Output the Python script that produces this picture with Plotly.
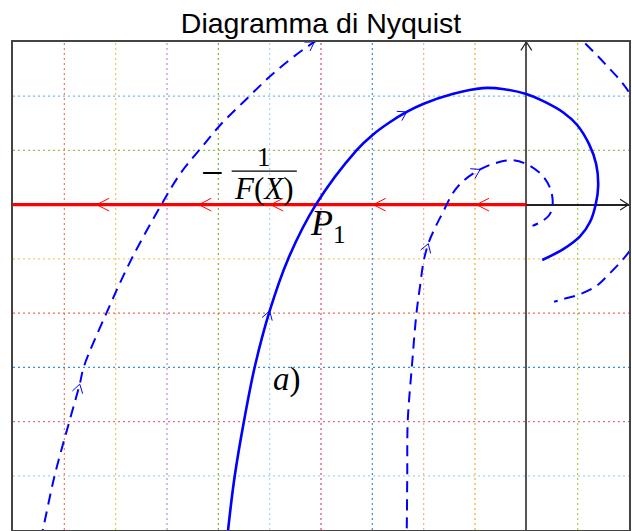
import math
import plotly.graph_objects as go

# ---- Curves of the Nyquist diagram (real part, imaginary part) ----
curve_a_re = [-5.84, -5.81, -5.68, -5.50, -5.29, -5.00, -4.64, -4.10, -3.30, -2.99, -2.66,
              -2.33, -2.00, -1.44, -0.85, -0.43, 0.00, 0.37, 0.72, 0.99, 1.22, 1.36, 1.40,
              1.35, 1.24, 1.05, 0.72, 0.31]
curve_a_im = [-6.30, -6.00, -5.00, -3.99, -2.99, -1.96, -1.00, 0.00, 1.01, 1.29, 1.52,
              1.71, 1.86, 2.04, 2.15, 2.13, 2.04, 1.89, 1.70, 1.47, 1.12, 0.75, 0.35,
              0.00, -0.32, -0.58, -0.82, -1.02]
curve_a_arrows = [5, 11]

outer_re = [-9.55, -9.42, -9.19, -8.90, -8.70, -8.62, -8.18, -7.69, -7.11, -6.72, -6.35,
            -5.97, -5.45, -4.87, -4.13, -3.00, -1.50, 0.00, 0.80, 1.12, 1.53, 1.96, 2.30, 2.45,
            2.35, 2.00, 1.57, 1.38, 1.05, 0.73, 0.54]
outer_im = [-6.50, -6.00, -5.00, -3.99, -3.31, -2.99, -2.00, -1.00, 0.00, 0.60, 1.03,
            1.46, 1.95, 2.47, 3.00, 3.60, 3.95, 3.80, 3.30, 3.00, 2.60, 2.13, 1.50, 0.50,
            -0.30, -0.87, -1.32, -1.49, -1.65, -1.74, -1.79]
outer_arrows = [4, 14]

inner_re = [-2.34, -2.33, -2.32, -2.31, -2.23, -2.14, -2.07, -2.00, -1.91, -1.79, -1.63,
            -1.42, -1.20, -0.90, -0.59, -0.29, 0.00, 0.32, 0.48, 0.51, 0.44, 0.28, 0.12]
inner_im = [-6.30, -6.00, -5.00, -3.99, -2.99, -2.00, -1.50, -1.04, -0.72, -0.45, -0.15,
            0.23, 0.46, 0.65, 0.77, 0.82, 0.75, 0.53, 0.26, -0.02, -0.20, -0.32, -0.39]
inner_arrows = [8, 13]

# -1/F(X) locus on the negative real axis
locus_re = [-10.0, 0.0]
locus_im = [0.0, 0.0]
locus_arrow_re = [-8.37, -6.38, -4.98, -2.98, -0.97]

# ---- Grid ----
grid_x = [-9, -8, -7, -6, -5, -4, -3, -2, -1, 1]
grid_x_colors = ["#ee7a50", "#f7c04e", "#b88ad0", "#7fae3e", "#9fdaf2",
                 "#d84a72", "#3d8fd2", "#f6ad92", "#f4a82a", "#9fcf45"]
grid_y = [2, 1, -1, -2, -3, -4, -5]
grid_y_colors = ["#6fc0e4", "#9cba52", "#f8cc6e", "#f0703a", "#3590d8", "#da7096", "#9ed6ef"]

X_RANGE = [-10, 2]
Y_RANGE = [-6, 3]

W, H = 632, 531
M = dict(l=13, r=1, t=42, b=1)
SX = (W - M["l"] - M["r"]) / (X_RANGE[1] - X_RANGE[0])
SY = (H - M["t"] - M["b"]) / (Y_RANGE[1] - Y_RANGE[0])


def chevron(xt, yt, dx_px, dy_px, arm=10.0, half=math.radians(32)):
    """Open arrow head with its tip at (xt, yt) pointing along (dx_px, dy_px)."""
    ang = math.atan2(dy_px, dx_px) + math.pi
    xs, ys = [], []
    for s in (half, -half):
        xs.append(xt + arm * math.cos(ang + s) / SX)
        ys.append(yt + arm * math.sin(ang + s) / SY)
    return [xs[0], xt, xs[1], None], [ys[0], yt, ys[1], None]


def curve_chevrons(re, im, idx_list, arm=10.0):
    xs, ys = [], []
    for i in idx_list:
        dx = (re[i + 1] - re[i - 1]) * SX
        dy = (im[i + 1] - im[i - 1]) * SY
        cx, cy = chevron(re[i], im[i], dx, dy, arm)
        xs += cx
        ys += cy
    return xs, ys


fig = go.Figure()

# red locus
fig.add_trace(go.Scatter(x=locus_re, y=locus_im, mode="lines",
                         line=dict(color="#ff0000", width=3.2), hoverinfo="skip"))
rx, ry = [], []
for xv in locus_arrow_re:
    cx, cy = chevron(xv, 0.0, -1.0, 0.0, arm=14, half=math.radians(27))
    rx += cx
    ry += cy
fig.add_trace(go.Scatter(x=rx, y=ry, mode="lines",
                         line=dict(color="#ff0000", width=1), hoverinfo="skip"))

# Nyquist curves
SPL = dict(shape="spline", smoothing=1.0)
fig.add_trace(go.Scatter(x=outer_re, y=outer_im, mode="lines",
                         line=dict(color="#0000ff", width=2, dash="11px,7px", **SPL),
                         hoverinfo="skip"))
fig.add_trace(go.Scatter(x=inner_re, y=inner_im, mode="lines",
                         line=dict(color="#0000ff", width=2, dash="11px,7px", **SPL),
                         hoverinfo="skip"))
fig.add_trace(go.Scatter(x=curve_a_re, y=curve_a_im, mode="lines",
                         line=dict(color="#0000ff", width=2.6, **SPL), hoverinfo="skip"))

bx, by = [], []
for re, im, idx in ((curve_a_re, curve_a_im, curve_a_arrows),
                    (outer_re, outer_im, outer_arrows),
                    (inner_re, inner_im, inner_arrows)):
    cx, cy = curve_chevrons(re, im, idx)
    bx += cx
    by += cy
fig.add_trace(go.Scatter(x=bx, y=by, mode="lines",
                         line=dict(color="#0000ff", width=1), hoverinfo="skip"))

# axis arrow heads
ax_x, ax_y = [], []
cx, cy = chevron(0.0, Y_RANGE[1], 0.0, 1.0, arm=10, half=math.radians(33))
ax_x += cx
ax_y += cy
cx, cy = chevron(X_RANGE[1] - 0.01, 0.0, 1.0, 0.0, arm=10, half=math.radians(33))
ax_x += cx
ax_y += cy
fig.add_trace(go.Scatter(x=ax_x, y=ax_y, mode="lines",
                         line=dict(color="#222222", width=1.2), hoverinfo="skip"))

# coloured dotted grid
shapes = []
for xv, c in zip(grid_x, grid_x_colors):
    shapes.append(dict(type="line", xref="x", yref="paper", x0=xv, x1=xv, y0=0, y1=1,
                       line=dict(color=c, width=1.2, dash="2px,3px"), layer="below"))
for yv, c in zip(grid_y, grid_y_colors):
    shapes.append(dict(type="line", xref="paper", yref="y", x0=0, x1=1, y0=yv, y1=yv,
                       line=dict(color=c, width=1.2, dash="2px,3px"), layer="below"))
# fraction bar of -1/F(X)
shapes.append(dict(type="line", xref="x", yref="y", x0=-5.74, x1=-4.47, y0=0.62, y1=0.62,
                   line=dict(color="#000000", width=1.3)))

MATH = "Liberation Serif"
ann = [
    dict(x=-6.12, y=0.60, text="\u2212", font=dict(family=MATH, size=40, color="black"),
         showarrow=False, xanchor="center", yanchor="middle"),
    dict(x=-5.11, y=0.87, text="1", font=dict(family=MATH, size=27, color="black"),
         showarrow=False, xanchor="center", yanchor="middle"),
    dict(x=-5.11, y=0.29, text="<i>F</i>(<i>X</i>)", font=dict(family=MATH, size=31, color="black"),
         showarrow=False, xanchor="center", yanchor="middle"),
    dict(x=-4.26, y=-0.38, text="<i>P</i><sub>1</sub>", font=dict(family=MATH, size=36, color="black"),
         showarrow=False, xanchor="left", yanchor="middle"),
    dict(x=-4.67, y=-3.22, text="<i>a</i>)", font=dict(family=MATH, size=33, color="black"),
         showarrow=False, xanchor="center", yanchor="middle"),
]

fig.update_layout(
    width=W, height=H, margin=M,
    paper_bgcolor="white", plot_bgcolor="white",
    showlegend=False,
    title=dict(text="Diagramma di Nyquist", x=0.5, xref="paper", xanchor="center",
               y=1 - 23 / H, yref="container", yanchor="middle",
               font=dict(family="Liberation Sans", size=28.5, color="black")),
    shapes=shapes, annotations=ann,
    xaxis=dict(range=X_RANGE, showgrid=False, showticklabels=False, ticks="",
               zeroline=True, zerolinecolor="#555555", zerolinewidth=2,
               showline=True, mirror=True, linecolor="#444444", linewidth=1.5),
    yaxis=dict(range=Y_RANGE, showgrid=False, showticklabels=False, ticks="",
               zeroline=True, zerolinecolor="#222222", zerolinewidth=1.5,
               showline=True, mirror=True, linecolor="#444444", linewidth=1.5),
)

fig.write_html("out.html")
